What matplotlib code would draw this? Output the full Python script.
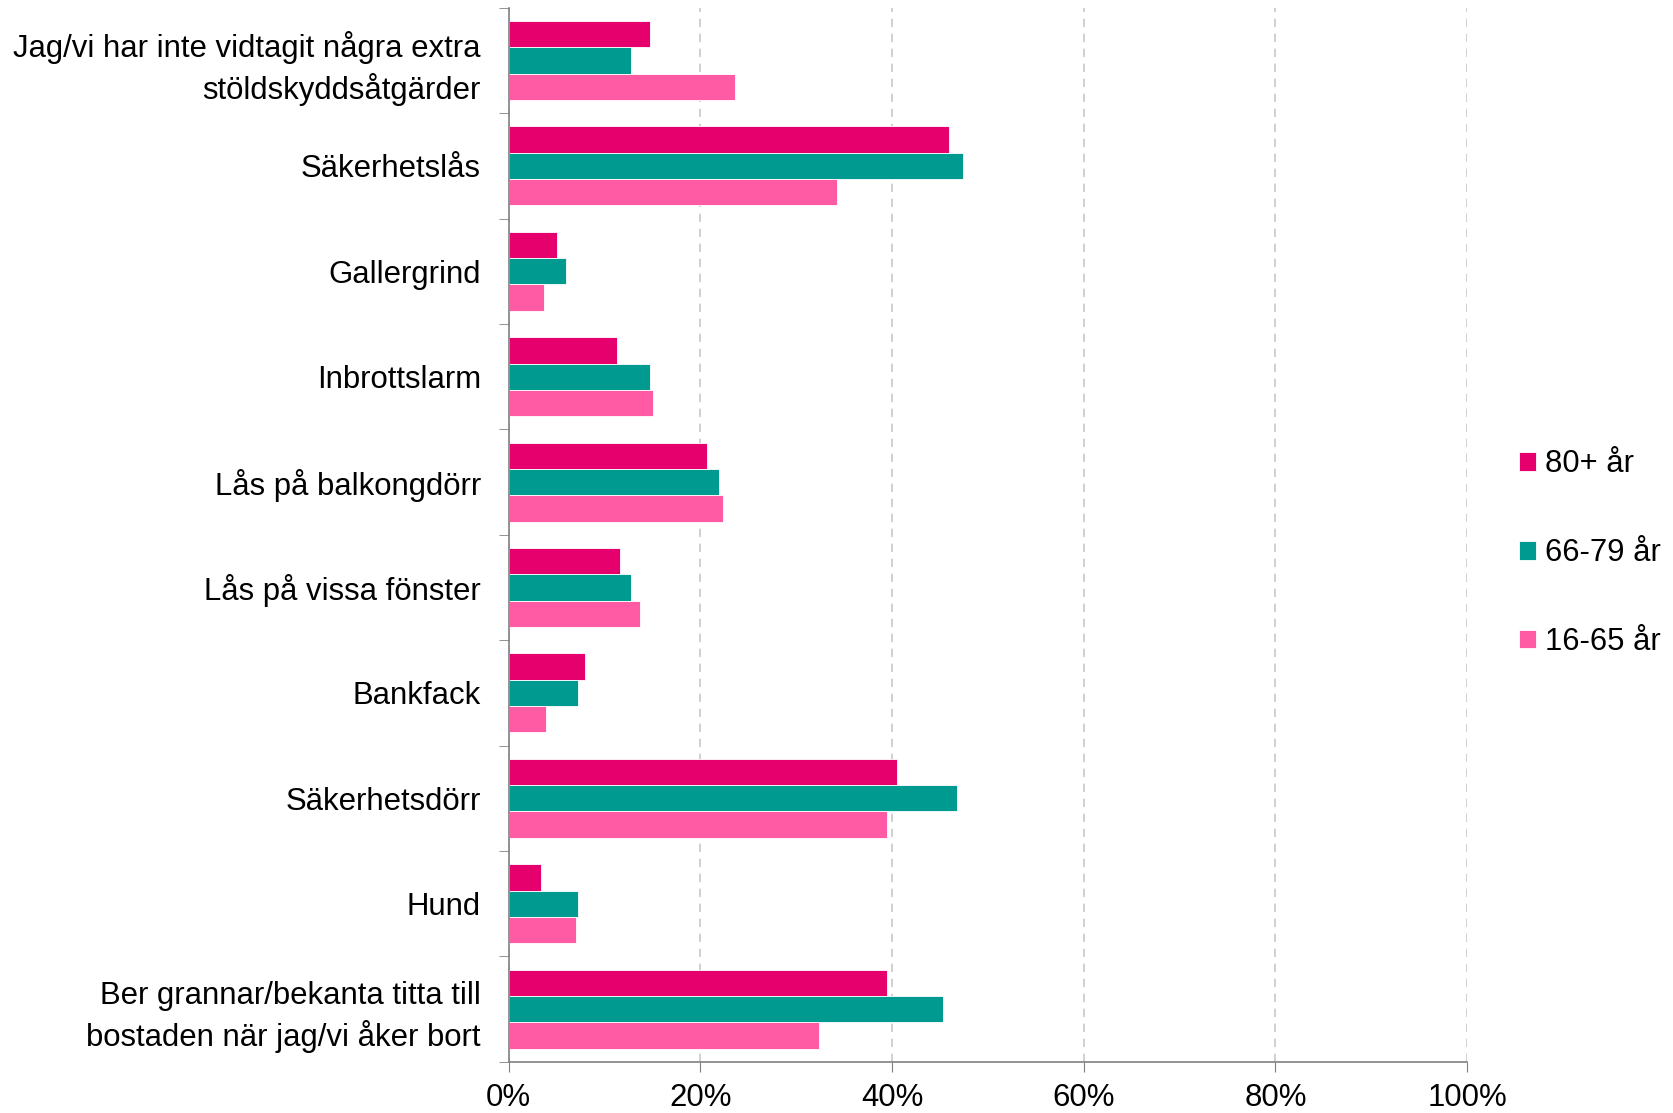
import matplotlib.pyplot as plt
import matplotlib.ticker as mticker
import numpy as np

plt.rcParams['font.family'] = ['Liberation Sans', 'DejaVu Sans']

categories = [
    "Jag/vi har inte vidtagit några extra\nstöldskyddsåtgärder",
    "Säkerhetslås",
    "Gallergrind",
    "Inbrottslarm",
    "Lås på balkongdörr",
    "Lås på vissa fönster",
    "Bankfack",
    "Säkerhetsdörr",
    "Hund",
    "Ber grannar/bekanta titta till\nbostaden när jag/vi åker bort",
]
series_names = ["80+ år", "66-79 år", "16-65 år"]
v80 = [14.7, 45.9, 5.1, 11.3, 20.7, 11.6, 8.0, 40.5, 3.4, 39.5]
v66 = [12.8, 47.4, 6.0, 14.7, 22.0, 12.8, 7.2, 46.8, 7.2, 45.3]
v16 = [23.6, 34.3, 3.7, 15.1, 22.4, 13.7, 3.9, 39.5, 7.0, 32.4]
colors = ["#E5006D", "#009A90", "#FF5BA4"]

fig = plt.figure(figsize=(16.73, 11.13), dpi=100)
ax = fig.add_axes([0.304, 0.046, 0.573, 0.947])

n = len(categories)
y = np.arange(n)
h = 0.25
for i, (vals, c, name) in enumerate(zip([v80, v66, v16], colors, series_names)):
    ax.barh(y + (i - 1) * h, vals, height=h, color=c, label=name,
            edgecolor="white", linewidth=0.6)

ax.set_ylim(n - 0.5, -0.5)
ax.set_xlim(0, 100)

ax.set_yticks(y)
ax.set_yticklabels(categories, fontsize=22.4, ha="right", linespacing=1.35)
ax.tick_params(axis="y", which="major", length=0, pad=20)
ax.set_yticks(np.arange(-0.5, n, 1), minor=True)
ax.tick_params(axis="y", which="minor", length=7, color="#808080", direction="out")

ax.set_xticks(np.arange(0, 101, 20))
ax.xaxis.set_major_formatter(mticker.FuncFormatter(lambda v, p: f"{int(v)}%"))
ax.tick_params(axis="x", labelsize=22.4, length=7, color="#808080", pad=8)

ax.grid(axis="x", color="#C8C8C8", linestyle=(0, (5, 4)), linewidth=1.2)
ax.set_axisbelow(True)

for s in ["top", "right"]:
    ax.spines[s].set_visible(False)
for s in ["left", "bottom"]:
    ax.spines[s].set_color("#808080")
    ax.spines[s].set_linewidth(1.2)

fig.legend(loc="center left", bbox_to_anchor=(0.891, 0.503), frameon=False,
           fontsize=22.3, handlelength=0.55, handleheight=0.55,
           handletextpad=0.3, labelspacing=1.9)

fig.savefig("out.png")
